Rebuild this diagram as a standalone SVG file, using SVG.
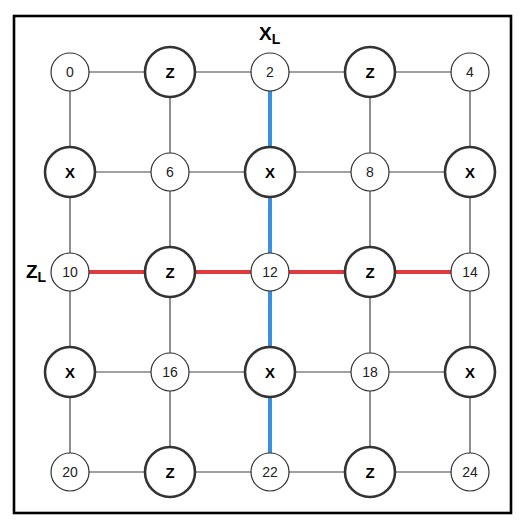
<svg xmlns="http://www.w3.org/2000/svg" width="532" height="532" viewBox="0 0 532 532">
<style>
.e{stroke:#444;stroke-width:1.2;fill:none}
.blue{stroke:#3b8fdf;stroke-width:4;fill:none}
.red{stroke:#e0393e;stroke-width:4;fill:none}
.s{fill:#fff;stroke:#333;stroke-width:1.2}
.b{fill:#fff;stroke:#333;stroke-width:2.6}
.ts{font-family:"Liberation Sans",Arial,sans-serif;font-size:14px;fill:#222;text-anchor:middle;dominant-baseline:central}
.tb{font-family:"Liberation Sans",Arial,sans-serif;font-size:15px;font-weight:bold;fill:#000;text-anchor:middle;dominant-baseline:central}
.lab{font-family:"Liberation Sans",Arial,sans-serif;font-size:19px;font-weight:bold;fill:#000}
</style>
<rect x="0" y="0" width="532" height="532" fill="#fff"/>
<rect x="14" y="16" width="497" height="497" fill="#fff" stroke="#000" stroke-width="2.6"/>
<g id="connectors">
<path class="e" d="M70 72H470M70 172H470M70 372H470M70 472H470"/>
<path class="e" d="M70 72V472M170 72V472M370 72V472M470 72V472"/>
<path class="e" d="M270 72V472M70 272H470"/>
<path class="blue" d="M270 72V472"/>
<path class="red" d="M70 272H470"/>
</g>
<g id="n0"><circle class="s" cx="70" cy="72" r="19"/><text class="ts" x="70" y="72">0</text></g>
<g id="z1"><circle class="b" cx="170" cy="72" r="25"/><text class="tb" x="170" y="72">Z</text></g>
<g id="n2"><circle class="s" cx="270" cy="72" r="19"/><text class="ts" x="270" y="72">2</text></g>
<g id="z3"><circle class="b" cx="370" cy="72" r="25"/><text class="tb" x="370" y="72">Z</text></g>
<g id="n4"><circle class="s" cx="470" cy="72" r="19"/><text class="ts" x="470" y="72">4</text></g>
<g id="x5"><circle class="b" cx="70" cy="172" r="25"/><text class="tb" x="70" y="172">X</text></g>
<g id="n6"><circle class="s" cx="170" cy="172" r="19"/><text class="ts" x="170" y="172">6</text></g>
<g id="x7"><circle class="b" cx="270" cy="172" r="25"/><text class="tb" x="270" y="172">X</text></g>
<g id="n8"><circle class="s" cx="370" cy="172" r="19"/><text class="ts" x="370" y="172">8</text></g>
<g id="x9"><circle class="b" cx="470" cy="172" r="25"/><text class="tb" x="470" y="172">X</text></g>
<g id="n10"><circle class="s" cx="70" cy="272" r="19"/><text class="ts" x="70" y="272">10</text></g>
<g id="z11"><circle class="b" cx="170" cy="272" r="25"/><text class="tb" x="170" y="272">Z</text></g>
<g id="n12"><circle class="s" cx="270" cy="272" r="19"/><text class="ts" x="270" y="272">12</text></g>
<g id="z13"><circle class="b" cx="370" cy="272" r="25"/><text class="tb" x="370" y="272">Z</text></g>
<g id="n14"><circle class="s" cx="470" cy="272" r="19"/><text class="ts" x="470" y="272">14</text></g>
<g id="x15"><circle class="b" cx="70" cy="372" r="25"/><text class="tb" x="70" y="372">X</text></g>
<g id="n16"><circle class="s" cx="170" cy="372" r="19"/><text class="ts" x="170" y="372">16</text></g>
<g id="x17"><circle class="b" cx="270" cy="372" r="25"/><text class="tb" x="270" y="372">X</text></g>
<g id="n18"><circle class="s" cx="370" cy="372" r="19"/><text class="ts" x="370" y="372">18</text></g>
<g id="x19"><circle class="b" cx="470" cy="372" r="25"/><text class="tb" x="470" y="372">X</text></g>
<g id="n20"><circle class="s" cx="70" cy="472" r="19"/><text class="ts" x="70" y="472">20</text></g>
<g id="z21"><circle class="b" cx="170" cy="472" r="25"/><text class="tb" x="170" y="472">Z</text></g>
<g id="n22"><circle class="s" cx="270" cy="472" r="19"/><text class="ts" x="270" y="472">22</text></g>
<g id="z23"><circle class="b" cx="370" cy="472" r="25"/><text class="tb" x="370" y="472">Z</text></g>
<g id="n24"><circle class="s" cx="470" cy="472" r="19"/><text class="ts" x="470" y="472">24</text></g>
<g id="XL"><text class="lab" x="259" y="40">X<tspan font-size="14" dy="4">L</tspan></text></g>
<g id="ZL"><text class="lab" x="26" y="278">Z<tspan font-size="14" dy="4">L</tspan></text></g>
</svg>
